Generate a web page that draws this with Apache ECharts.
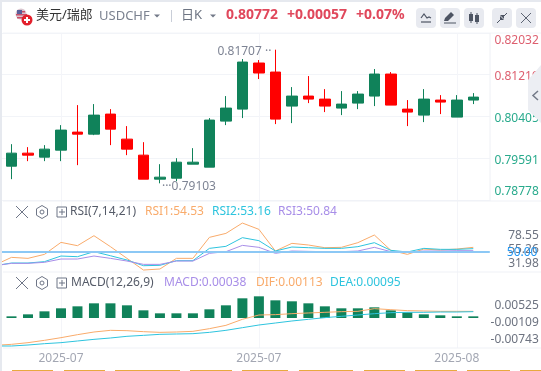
<!DOCTYPE html>
<html>
<head>
<meta charset="utf-8">
<style>
html,body{margin:0;padding:0;background:#fff;}
#chart{width:541px;height:371px;}
</style>
<script src="https://cdn.jsdelivr.net/npm/echarts@6/dist/echarts.min.js"></script>
</head>
<body>
<div id="chart"></div>
<script>
// one empty slot in front and behind the candles
var xLabels = ['','','','','2025-07','','','','','','','','','','','','2025-07','','','','','','','','','','','','2025-08','',''];

var opens  = [0.79437,0.79691,0.79613,0.79749,0.80101,0.80061,0.80452,0.79964,0.79652,0.79184,0.79203,0.79476,0.79418,0.80315,0.80549,0.81447,0.81271,0.80608,0.80803,0.80744,0.80569,0.80666,0.80803,0.81232,0.80549,0.80432,0.80725,0.80393,0.80725];
var closes = [0.79691,0.79652,0.79769,0.80140,0.80061,0.80432,0.80159,0.79769,0.79184,0.79223,0.79515,0.79515,0.80335,0.80569,0.81466,0.81252,0.80354,0.80803,0.80744,0.80608,0.80647,0.80842,0.81232,0.80627,0.80491,0.80744,0.80686,0.80725,0.80783];
var lows   = [0.79184,0.79535,0.79535,0.79535,0.79457,0.80042,0.79847,0.79652,0.79184,0.79103,0.79145,0.79476,0.79418,0.80237,0.80374,0.81135,0.80257,0.80276,0.80666,0.80491,0.80432,0.80549,0.80608,0.80627,0.80218,0.80296,0.80452,0.80393,0.80647];
var highs  = [0.79866,0.79808,0.79847,0.80237,0.80627,0.80647,0.80549,0.80218,0.79905,0.79476,0.79593,0.79788,0.80374,0.80803,0.81525,0.81505,0.81707,0.80978,0.81193,0.80939,0.80900,0.80900,0.81330,0.81271,0.80725,0.80939,0.80822,0.80822,0.80861];

var rsi1 = [28.7,41.2,39.6,46.1,65.7,60.3,76.6,58.7,39.6,20.5,22.2,39.6,39.6,73.9,80.4,97.3,87.0,51.6,64.1,61.4,57.0,57.6,65.2,77.7,52.7,46.1,54.8,53.2,54.8,57.6];
var rsi2 = [27.6,32.0,32.0,34.2,43.4,42.3,50.5,43.9,36.9,27.6,28.2,35.8,35.8,55.9,59.2,73.4,68.5,51.6,58.1,57.0,55.9,55.9,58.7,65.2,52.7,50.0,55.9,54.3,54.3,55.4];
var rsi3 = [27.6,31.4,31.4,33.1,38.5,38.5,43.4,39.6,35.2,29.8,29.8,35.2,35.2,47.8,50.5,60.8,57.6,47.8,51.6,51.0,50.5,50.5,51.6,57.6,50.5,50.0,51.6,51.6,52.1,52.1];

var macdBars = [0.00063,0.00138,0.00251,0.00365,0.00440,0.00553,0.00553,0.00478,0.00289,0.00176,0.00176,0.00176,0.00327,0.00478,0.00742,0.00817,0.00666,0.00629,0.00553,0.00440,0.00365,0.00365,0.00402,0.00289,0.00214,0.00138,0.00101,0.00063,0.00063];
var dif = [-0.01031,-0.00993,-0.00930,-0.00842,-0.00742,-0.00629,-0.00528,-0.00465,-0.00478,-0.00515,-0.00541,-0.00528,-0.00503,-0.00402,-0.00277,-0.00050,0.00113,0.00126,0.00163,0.00189,0.00214,0.00239,0.00251,0.00352,0.00314,0.00277,0.00264,0.00251,0.00251,0.00251];
var dea = [-0.01056,-0.01056,-0.01018,-0.00968,-0.00930,-0.00867,-0.00805,-0.00754,-0.00691,-0.00654,-0.00616,-0.00603,-0.00591,-0.00541,-0.00465,-0.00365,-0.00264,-0.00189,-0.00113,-0.00050,0.00013,0.00063,0.00113,0.00163,0.00201,0.00214,0.00214,0.00226,0.00226,0.00239];

var priceTicks = [0.78778,0.79591,0.80405,0.81219,0.82032];
var rsiTicks = [31.98,55.26,78.55];
var rsiLevel = 50;
var macdTicks = [-0.00743,-0.00109,0.00525];

var font = '"Noto Sans","Noto Sans CJK SC",sans-serif';
var upColor = '#10825a', downColor = '#ff0000';
var orange = '#f9ab6b', cyan = '#2ec4de', purple = '#a88ee8';
var gridColor = '#f2f4f8', iconColor = '#6f7687';

var candleData = [['-','-','-','-']];
opens.forEach(function(o, i){
	candleData.push([o, closes[i], lows[i], highs[i]]);
});
var barData = ['-'].concat(macdBars);

function showLabel(index){
	return xLabels[index] !== '';
}

function txt(x, y, text, color, size, weight){
	return {type:'text', z:20, style:{x:x, y:y, text:text, fill:color, font:(weight||'normal')+' '+(size||12)+'px '+font, textVerticalAlign:'middle'}};
}
function ln(x1, y1, x2, y2, color, w){
	return {type:'line', z:20, shape:{x1:x1,y1:y1,x2:x2,y2:y2}, style:{stroke:color||iconColor, lineWidth:w||1}};
}
function box(x, y, w, h, color, r){
	return {type:'rect', z:20, shape:{x:x,y:y,width:w,height:h,r:r||0}, style:{fill:color}};
}
function poly(points, color){
	return {type:'polygon', z:20, shape:{points:points}, style:{fill:color}};
}
function tri(x, y){
	return poly([[x-3,y-1.5],[x+3,y-1.5],[x,y+1.5]], '#727988');
}

// close / settings / collapse icons in front of a pane title
function paneIcons(y){
	return [
		ln(16,y-6,28,y+6), ln(28,y-6,16,y+6),
		{type:'polygon', z:20, shape:{points:[[42,y-6.5],[47.5,y-3.2],[47.5,y+3.2],[42,y+6.5],[36.5,y+3.2],[36.5,y-3.2]]}, style:{fill:'none', stroke:iconColor, lineWidth:1}},
		{type:'circle', z:20, shape:{cx:42,cy:y,r:2}, style:{fill:'none', stroke:iconColor, lineWidth:1}},
		{type:'rect', z:20, shape:{x:57,y:y-5,width:9.5,height:10}, style:{fill:'none', stroke:iconColor, lineWidth:1}},
		ln(59,y,65,y), ln(62,y-3,62,y+3)
	];
}

var graphics = [
	box(0,0,541,2,'#e6e9ef'), box(0,0,2,371,'#e6e9ef'),
	ln(3,33,541,33,gridColor), ln(490,33,490,201,'#eef0f5'),
	ln(3,201,541,201,'#eff1f6'), ln(3,272,541,272,'#eff1f6'), ln(3,348,541,348,'#eff1f6'),

	// flags
	{type:'circle', z:20, shape:{cx:21,cy:14,r:5.5}, style:{fill:'#d9c6cf'}},
	box(17,11,8,1.5,'#c8506a'), box(16,14,11,1.5,'#c8506a'), box(17,17,7,1.5,'#c8506a'),
	box(17,10,5,4,'#5a5f9a'),
	{type:'circle', z:20, shape:{cx:27,cy:20,r:5.5}, style:{fill:'#e3202c'}},
	box(24,19,6,2,'#fff'), box(26,17,2,6,'#fff'),

	txt(36,15,'美元/瑞郎','#333333',13),
	txt(99,16,'USDCHF','#7b8290',13),
	tri(157,16),
	ln(171.5,10,171.5,22,'#c9ced8'),
	txt(181,15,'日K','#6d7482',13),
	tri(213,16),
	txt(226,15,'0.80772','#e0485c',14,'bold'),
	txt(287,15,'+0.00057','#e0485c',14,'bold'),
	txt(356,15,'+0.07%','#e0485c',14,'bold'),

	// toolbar
	box(416,8,20,20,'#e8eaf0',4), box(440,8,20,20,'#e8eaf0',4), box(464,8,20,20,'#e8eaf0',4),
	box(492,8,20,20,'#e8eaf0',4), box(516,8,20,20,'#e8eaf0',4),
	{type:'polyline', z:20, shape:{points:[[421,18],[424,14],[427,18],[429,17],[431,18]]}, style:{fill:'none',stroke:'#4d5463',lineWidth:1.2}},
	ln(421,22,431,22,'#4d5463',1.2),
	poly([[444,21],[445,18],[451,12],[454,15],[448,21]],'#4d5463'), ln(444,23,456,23,'#4d5463',1),
	box(469,14,4,7,'#4d5463'), ln(471,12,471,23,'#4d5463'), box(475,15,4,7,'#4d5463'), ln(477,13,477,24,'#4d5463'),
	ln(497,23,501,19,'#4d5463'), ln(507,13,503,17,'#4d5463'),
	poly([[500,16],[504,20],[500,20]],'#4d5463'), poly([[504,15],[504,19],[500,15]],'#4d5463'),
	ln(521,13,531,23,'#5d6473'), ln(531,13,521,23,'#5d6473'),

	// side handle
	poly([[541,65],[528,80],[528,110],[541,123]],'#eceef3'),
	{type:'polyline', z:21, shape:{points:[[538,91],[533,95.5],[538,100]]}, style:{fill:'none',stroke:'#737a88',lineWidth:1.5}},

	txt(70,212,'RSI(7,14,21)','#555b68'),
	txt(145,212,'RSI1:54.53',orange),
	txt(212,212,'RSI2:53.16',cyan),
	txt(278,212,'RSI3:50.84',purple),

	txt(71,283,'MACD(12,26,9)','#555b68'),
	txt(164,283,'MACD:0.00038',purple),
	txt(256,283,'DIF:0.00113',orange),
	txt(330,283,'DEA:0.00095',cyan)
].concat(paneIcons(212), paneIcons(283));

// cut off buttons along the bottom edge
[[12,53],[64,105],[115,180],[190,232],[242,288],[299,353],[364,405],[415,457],[467,510],[520,541]].forEach(function(s){
	graphics.push(box(s[0],370,s[1]-s[0],1,'#e8a93f'));
});

function xAxisFor(gridIndex, labelled){
	return {
		type:'category', gridIndex:gridIndex, data:xLabels, boundaryGap:false,
		axisLine:{show:false}, axisTick:{show:false},
		splitLine:{show:true, interval:showLabel, lineStyle:{color:'#f4f5f9'}},
		axisLabel:{show:labelled, interval:showLabel, color:'#a3a7b3', fontSize:12, fontFamily:font, margin:5}
	};
}

var chart = echarts.init(document.getElementById('chart'), null, {renderer:'canvas'});

chart.setOption({
	animation:false,
	backgroundColor:'#ffffff',
	grid:[
		{outerBoundsMode:'none', left:-5, width:494.8, top:33, height:167},
		{outerBoundsMode:'none', left:-5, width:494.8, top:201, height:71},
		{outerBoundsMode:'none', left:-5, width:494.8, top:272, height:76}
	],
	xAxis:[xAxisFor(0,false), xAxisFor(1,false), xAxisFor(2,true)],
	yAxis:[
		{
			type:'value', gridIndex:0, position:'right', min:0.78778, max:0.82032,
			axisLine:{show:false},
			axisTick:{show:false, customValues:priceTicks},
			splitLine:{show:true, lineStyle:{color:gridColor}},
			axisLabel:{
				customValues:priceTicks, margin:49, align:'right', fontSize:12, fontFamily:font,
				verticalAlign:'top', lineHeight:4,
				verticalAlignMinLabel:'bottom', verticalAlignMaxLabel:'top',
				rich:{edge:{lineHeight:16}},
				formatter:function(v){
					var s = v.toFixed(5);
					// the outer labels are pulled inside the pane
					return (s === '0.82032' || s === '0.78778') ? '{edge|' + s + '}' : s;
				},
				color:function(v){ return parseFloat(v) > 0.80772 ? '#dd5f6f' : '#28aa8c'; }
			}
		},
		{
			type:'value', gridIndex:1, position:'right', min:17.3, max:133.3,
			axisLine:{show:false},
			axisTick:{show:false, customValues:rsiTicks},
			splitLine:{show:false},
			axisLabel:{
				customValues:rsiTicks, margin:49, align:'right', fontSize:12, fontFamily:font,
				showMinLabel:true, showMaxLabel:true,
				verticalAlign:'top', lineHeight:2,
				formatter:function(v){ return v.toFixed(2); },
				color:'#6d7380'
			}
		},
		{
			type:'value', gridIndex:2, position:'right', min:-0.01131, max:0.01734,
			axisLine:{show:false},
			axisTick:{show:false, customValues:macdTicks},
			splitLine:{show:false},
			axisLabel:{
				customValues:macdTicks, margin:49, align:'right', fontSize:12, fontFamily:font,
				showMinLabel:true, showMaxLabel:true,
				verticalAlign:'top', lineHeight:4,
				formatter:function(v){ return v.toFixed(5); },
				color:'#6d7380'
			}
		}
	],
	series:[
		{
			type:'candlestick', xAxisIndex:0, yAxisIndex:0, data:candleData, barWidth:11,
			itemStyle:{color:upColor, color0:downColor, borderColor:upColor, borderColor0:downColor, borderWidth:1},
			markPoint:{
				symbol:'circle', symbolSize:0, silent:true,
				data:[
					{coord:[17,0.81707], label:{show:true, position:'left', distance:4, offset:[0,2], formatter:"0.81707 ··", color:'#7e8494', fontSize:12, fontFamily:font}},
					{coord:[10,0.79103], label:{show:true, position:'right', distance:0, offset:[2,3], formatter:"···0.79103", color:'#7e8494', fontSize:12, fontFamily:font}}
				]
			}
		},
		{type:'line', xAxisIndex:1, yAxisIndex:1, data:rsi1, showSymbol:false, lineStyle:{color:orange, width:1}, z:3},
		{type:'line', xAxisIndex:1, yAxisIndex:1, data:rsi2, showSymbol:false, lineStyle:{color:cyan, width:1}, z:3},
		{
			type:'line', xAxisIndex:1, yAxisIndex:1, data:rsi3, showSymbol:false, lineStyle:{color:purple, width:1}, z:3,
			markLine:{
				silent:true, symbol:'none', animation:false,
				lineStyle:{color:'#8cc8f5', width:2, type:'solid'},
				label:{show:true, position:'end', distance:17, offset:[0,1], formatter:function(p){ return p.value.toFixed(2); }, color:'#2196f3', fontSize:12, fontFamily:font},
				data:[{yAxis:rsiLevel}]
			}
		},
		{type:'bar', xAxisIndex:2, yAxisIndex:2, data:barData, barWidth:10, itemStyle:{color:upColor}},
		{type:'line', xAxisIndex:2, yAxisIndex:2, data:dif, showSymbol:false, lineStyle:{color:orange, width:1}, z:3},
		{type:'line', xAxisIndex:2, yAxisIndex:2, data:dea, showSymbol:false, lineStyle:{color:cyan, width:1}, z:3}
	],
	graphic:graphics
});
</script>
</body>
</html>
